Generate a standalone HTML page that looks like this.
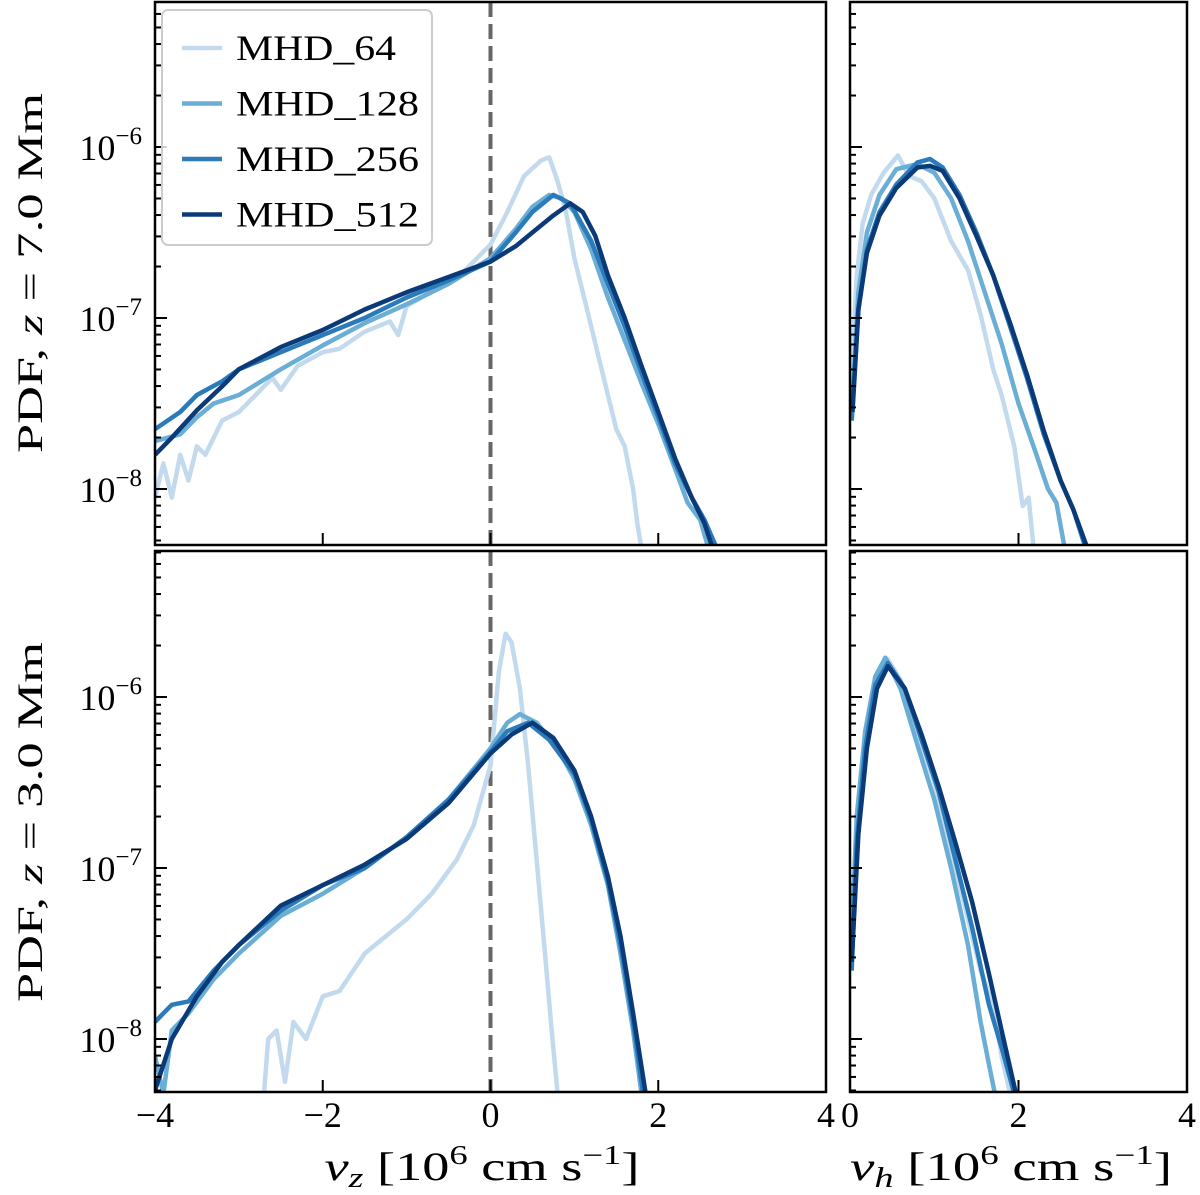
<!DOCTYPE html>
<html><head><meta charset="utf-8"><style>
body{margin:0;background:#fff}
svg{display:block}
text{font-family:"Liberation Serif","DejaVu Serif",serif;fill:#000}
</style></head><body>
<svg id="c" width="1200" height="1195" viewBox="0 0 1200 1195"></svg>
<script>
// ---- data: [x, log10 PDF] ----
const seriesNames=["MHD_64","MHD_128","MHD_256","MHD_512"];
const seriesColors=["#c3daee","#6aaed6","#2b7bba","#0b3a78"];
const xTicksLeft=[-4,-2,0,2,4];
const xTicksRight=[0,2,4];
const yDecades=[-8,-7,-6];
// top-left (z=7.0 Mm), v_z
const tl64=[[-4,-8.05],[-3.9,-7.85],[-3.8,-8.05],[-3.7,-7.8],[-3.6,-7.95],[-3.5,-7.75],[-3.4,-7.8],[-3.2,-7.6],[-3,-7.55],[-2.8,-7.45],[-2.6,-7.35],[-2.5,-7.42],[-2.3,-7.28],[-2,-7.2],[-1.8,-7.18],[-1.5,-7.08],[-1.2,-7.02],[-1.1,-7.1],[-1,-6.93],[-0.6,-6.82],[-0.3,-6.72],[0,-6.57],[0.2,-6.38],[0.4,-6.17],[0.6,-6.08],[0.7,-6.06],[0.8,-6.2],[0.9,-6.38],[1.0,-6.65],[1.1,-6.85],[1.2,-7.05],[1.3,-7.25],[1.4,-7.45],[1.5,-7.65],[1.6,-7.75],[1.7,-8.0],[1.75,-8.2],[1.8,-8.35]];
const tl128=[[-4,-7.72],[-3.7,-7.68],[-3.5,-7.58],[-3.3,-7.5],[-3,-7.45],[-2.5,-7.3],[-2,-7.16],[-1.5,-7.03],[-1,-6.92],[-0.5,-6.8],[0,-6.65],[0.3,-6.48],[0.5,-6.35],[0.7,-6.28],[0.85,-6.3],[1.0,-6.38],[1.2,-6.6],[1.4,-6.88],[1.6,-7.13],[1.8,-7.38],[2.0,-7.62],[2.2,-7.88],[2.35,-8.08],[2.5,-8.18],[2.6,-8.35]];
const tl256=[[-4,-7.65],[-3.7,-7.55],[-3.5,-7.45],[-3.2,-7.37],[-3,-7.3],[-2.5,-7.2],[-2,-7.1],[-1.5,-7.0],[-1,-6.88],[-0.5,-6.78],[0,-6.67],[0.3,-6.5],[0.5,-6.38],[0.75,-6.28],[0.95,-6.33],[1.2,-6.55],[1.4,-6.8],[1.6,-7.05],[1.8,-7.32],[2.0,-7.58],[2.2,-7.85],[2.4,-8.05],[2.55,-8.18],[2.7,-8.35]];
const tl512=[[-4,-7.8],[-3.8,-7.7],[-3.5,-7.54],[-3.2,-7.4],[-3,-7.3],[-2.5,-7.17],[-2,-7.07],[-1.5,-6.95],[-1,-6.85],[-0.5,-6.76],[0,-6.67],[0.3,-6.58],[0.5,-6.5],[0.75,-6.4],[0.95,-6.33],[1.1,-6.38],[1.25,-6.52],[1.4,-6.75],[1.6,-7.0],[1.8,-7.28],[2.0,-7.55],[2.2,-7.82],[2.4,-8.05],[2.55,-8.2],[2.65,-8.35]];
// top-right, v_h
const tr64=[[0.02,-7.3],[0.08,-6.75],[0.15,-6.45],[0.25,-6.28],[0.4,-6.15],[0.57,-6.05],[0.7,-6.17],[0.85,-6.2],[1.0,-6.3],[1.2,-6.55],[1.4,-6.72],[1.55,-6.98],[1.7,-7.3],[1.8,-7.45],[1.95,-7.75],[2.05,-8.1],[2.12,-8.05],[2.18,-8.35]];
const tr128=[[0.02,-7.55],[0.1,-6.85],[0.2,-6.5],[0.35,-6.28],[0.55,-6.13],[0.8,-6.1],[1.0,-6.15],[1.2,-6.3],[1.4,-6.55],[1.6,-6.85],[1.8,-7.15],[2.0,-7.5],[2.2,-7.78],[2.35,-8.0],[2.45,-8.08],[2.55,-8.35]];
const tr256=[[0.02,-7.6],[0.1,-6.95],[0.2,-6.6],[0.35,-6.38],[0.55,-6.22],[0.8,-6.09],[0.95,-6.07],[1.1,-6.12],[1.3,-6.28],[1.5,-6.5],[1.7,-6.75],[1.9,-7.05],[2.1,-7.35],[2.3,-7.68],[2.5,-7.95],[2.65,-8.12],[2.8,-8.35]];
const tr512=[[0.03,-7.55],[0.1,-6.95],[0.2,-6.62],[0.35,-6.4],[0.55,-6.24],[0.8,-6.12],[0.95,-6.11],[1.1,-6.14],[1.3,-6.3],[1.5,-6.52],[1.7,-6.75],[1.9,-7.03],[2.1,-7.33],[2.3,-7.66],[2.5,-7.95],[2.65,-8.12],[2.82,-8.35]];
// bottom-left (z=3.0 Mm)
const bl64=[[-2.7,-8.32],[-2.65,-8.0],[-2.55,-7.95],[-2.45,-8.25],[-2.35,-7.9],[-2.2,-8.0],[-2.0,-7.75],[-1.8,-7.72],[-1.5,-7.5],[-1.3,-7.42],[-1.0,-7.3],[-0.7,-7.15],[-0.4,-6.95],[-0.2,-6.75],[0,-6.4],[0.1,-5.85],[0.18,-5.63],[0.25,-5.68],[0.35,-5.95],[0.45,-6.4],[0.55,-6.95],[0.65,-7.5],[0.72,-7.9],[0.8,-8.32]];
const bl128=[[-4,-8.1],[-3.9,-8.32],[-3.8,-7.95],[-3.6,-7.85],[-3.3,-7.65],[-3,-7.5],[-2.5,-7.28],[-2,-7.15],[-1.5,-7.0],[-1,-6.82],[-0.5,-6.6],[0,-6.3],[0.2,-6.15],[0.35,-6.1],[0.55,-6.15],[0.8,-6.3],[1.0,-6.48],[1.2,-6.75],[1.4,-7.1],[1.55,-7.5],[1.7,-7.95],[1.8,-8.32]];
const bl256=[[-4,-7.9],[-3.9,-7.85],[-3.8,-7.8],[-3.6,-7.78],[-3.3,-7.6],[-3,-7.45],[-2.5,-7.25],[-2,-7.1],[-1.5,-7.0],[-1,-6.82],[-0.5,-6.6],[0,-6.32],[0.2,-6.2],[0.45,-6.15],[0.7,-6.25],[1.0,-6.45],[1.2,-6.72],[1.4,-7.08],[1.55,-7.45],[1.7,-7.9],[1.82,-8.32]];
const bl512=[[-4,-8.3],[-3.8,-8.0],[-3.5,-7.75],[-3.2,-7.55],[-3,-7.45],[-2.5,-7.22],[-2,-7.1],[-1.5,-6.98],[-1,-6.83],[-0.5,-6.62],[0,-6.33],[0.25,-6.22],[0.5,-6.15],[0.75,-6.24],[1.0,-6.43],[1.2,-6.7],[1.4,-7.05],[1.55,-7.4],[1.7,-7.85],[1.85,-8.32]];
// bottom-right
const br64=[[0.02,-7.5],[0.08,-6.8],[0.18,-6.35],[0.3,-5.9],[0.45,-5.78],[0.6,-5.9],[0.8,-6.2],[1.0,-6.5],[1.2,-6.9],[1.4,-7.3],[1.55,-7.6],[1.7,-7.8],[1.8,-8.1],[1.9,-8.32]];
const br128=[[0.02,-7.4],[0.08,-6.7],[0.18,-6.2],[0.3,-5.88],[0.42,-5.77],[0.6,-5.95],[0.8,-6.28],[1.0,-6.6],[1.2,-7.0],[1.4,-7.45],[1.55,-7.9],[1.65,-8.15],[1.72,-8.32]];
const br256=[[0.02,-7.6],[0.08,-6.85],[0.18,-6.3],[0.3,-5.93],[0.45,-5.8],[0.65,-5.95],[0.85,-6.25],[1.05,-6.55],[1.25,-6.95],[1.45,-7.35],[1.65,-7.8],[1.8,-8.05],[1.95,-8.32]];
const br512=[[0.02,-7.55],[0.1,-6.8],[0.2,-6.3],[0.32,-5.95],[0.45,-5.82],[0.65,-5.95],[0.85,-6.22],[1.05,-6.52],[1.25,-6.85],[1.45,-7.2],[1.65,-7.62],[1.8,-7.95],[1.97,-8.32]];

const NS="http://www.w3.org/2000/svg";
const svg=document.getElementById('c');
function mk(tag,attrs,parent){const e=document.createElementNS(NS,tag);for(const k in attrs)e.setAttribute(k,attrs[k]);(parent||svg).appendChild(e);return e;}

const panels=[
 {name:'top-left',x0:155,x1:826,y0:2,y1:545,xmin:-4,xmax:4,ticks:xTicksLeft,data:[tl64,tl128,tl256,tl512],dash:true},
 {name:'top-right',x0:850,x1:1187,y0:2,y1:545,xmin:0,xmax:4,ticks:xTicksRight,data:[tr64,tr128,tr256,tr512]},
 {name:'bottom-left',x0:155,x1:826,y0:551,y1:1092,xmin:-4,xmax:4,ticks:xTicksLeft,data:[bl64,bl128,bl256,bl512],dash:true,labels:true},
 {name:'bottom-right',x0:850,x1:1187,y0:551,y1:1092,xmin:0,xmax:4,ticks:xTicksRight,data:[br64,br128,br256,br512],labels:true}
];
const yRef={'top':147,'bottom':697};
const dec=171;
panels.forEach((p,pi)=>{
  const top=p.name.startsWith('top');
  const y6=top?yRef.top:yRef.bottom;
  const X=v=>p.x0+(v-p.xmin)/(p.xmax-p.xmin)*(p.x1-p.x0);
  const Y=l=>y6+(-6-l)*dec;
  const g=mk('g',{});
  
  
  const cid='clip'+pi;
  const cp=mk('clipPath',{id:cid},g);mk('rect',{x:p.x0,y:p.y0,width:p.x1-p.x0,height:p.y1-p.y0},cp);
  if(p.dash){const l=mk('line',{x1:X(0),x2:X(0),y1:p.y0,y2:p.y1,stroke:'#666',"stroke-width":4,"stroke-dasharray":"15,7"},g);
    }
  const cg=mk('g',{"clip-path":`url(#${cid})`},g);
  p.data.forEach((d,si)=>{
    const pl=mk('polyline',{points:d.map(q=>X(q[0]).toFixed(1)+','+Y(q[1]).toFixed(1)).join(' '),fill:'none',stroke:seriesColors[si],"stroke-width":4.5,"stroke-linejoin":"round"},cg);
    
    
  });
  for(let d=-9;d<=-5;d++){
    for(let m=1;m<10;m++){
      const l=d+Math.log10(m);const y=Y(l);
      if(y<p.y0+1||y>p.y1-1)continue;
      const len=m===1?12:6;
      mk('line',{x1:p.x0,x2:p.x0+len,y1:y,y2:y,stroke:'#000','stroke-width':2},g);
    }
  }
  if(pi===0||pi===2){
    yDecades.forEach(d=>{const t=mk('text',{x:142,y:Y(d)+13,"font-size":36,"text-anchor":"end"},g);
      t.innerHTML='10<tspan dy="-16" font-size="25">−'+(-d)+'</tspan>';
      });
  }
  p.ticks.forEach(v=>{const x=X(v);
    if(v!==p.xmin&&v!==p.xmax)mk('line',{x1:x,x2:x,y1:p.y1,y2:p.y1-12,stroke:'#000','stroke-width':2},g);
    if(p.labels){const t=mk('text',{x:x,y:1127,"font-size":36,"text-anchor":"middle"},g);
      t.textContent=(v<0?'−':'')+Math.abs(v);
      }
  });
  mk('rect',{x:p.x0,y:p.y0,width:p.x1-p.x0,height:p.y1-p.y0,fill:'none',stroke:'#000','stroke-width':2.5},g);
});
// legend
const lg=mk('g',{});


mk('rect',{x:162,y:10,width:270,height:235,rx:6,fill:'#fff','fill-opacity':0.8,stroke:'#ccc','stroke-width':2},lg);
const legendLens=[160,183,183,183];
seriesNames.forEach((n,i)=>{const y=48+i*55.5;
  mk('line',{x1:182,x2:222,y1:y,y2:y,stroke:seriesColors[i],'stroke-width':4.5},lg);
  const t=mk('text',{x:236,y:y+12,"font-size":36,textLength:legendLens[i],lengthAdjust:'spacingAndGlyphs'},lg);t.textContent=n;
  });
function lbl(html,x,y,rot,name,len,fs){const t=mk('text',{x:x,y:y,"font-size":fs||36,"text-anchor":"middle",transform:rot?`rotate(-90 ${x} ${y})`:''});t.innerHTML=html;
  if(len){t.setAttribute('textLength',len);t.setAttribute('lengthAdjust','spacingAndGlyphs');}
  }
lbl('PDF,  <tspan font-style="italic">z</tspan> = 7.0 Mm',42,273,true,'y-axis-title-top',360);
lbl('PDF,  <tspan font-style="italic">z</tspan> = 3.0 Mm',42,822,true,'y-axis-title-bottom',360);
lbl('<tspan font-style="italic">v<tspan font-size="28" dy="7">z</tspan></tspan><tspan dy="-7">  [10</tspan><tspan font-size="27" dy="-16">6</tspan><tspan dy="16">  cm s</tspan><tspan font-size="27" dy="-16">−1</tspan><tspan dy="16">]</tspan>',482,1180,false,'x-axis-title-left',315,40);
lbl('<tspan font-style="italic">v<tspan font-size="28" dy="7">h</tspan></tspan><tspan dy="-7">  [10</tspan><tspan font-size="27" dy="-16">6</tspan><tspan dy="16">  cm s</tspan><tspan font-size="27" dy="-16">−1</tspan><tspan dy="16">]</tspan>',1011,1180,false,'x-axis-title-right',322,40);
</script>
</body></html>
